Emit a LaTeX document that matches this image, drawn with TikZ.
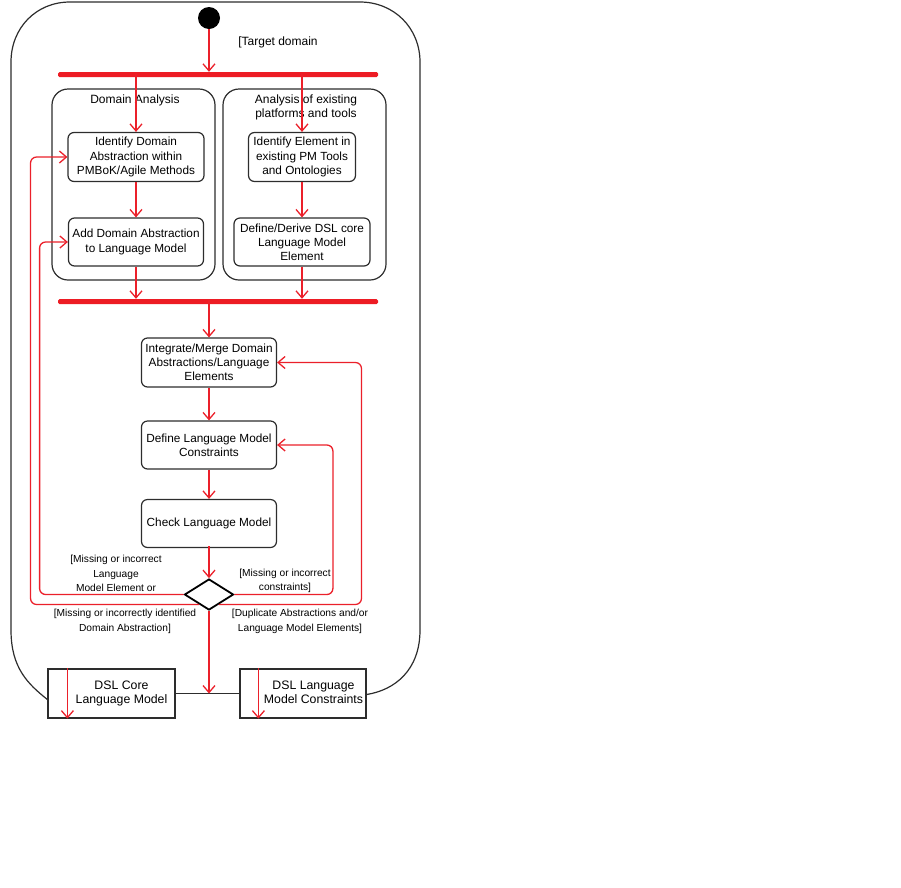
\documentclass[tikz,border=0pt]{standalone}
\usepackage{fontspec}
\setmainfont{Liberation Sans}
\usetikzlibrary{arrows.meta,shapes.geometric}
\definecolor{flowred}{RGB}{235,32,42}
\definecolor{barred}{RGB}{237,28,36}
\definecolor{linegray}{RGB}{45,45,45}
\tikzset{
  act/.style={draw=linegray,line width=1.2pt,rounded corners=6pt,align=center,
    inner sep=0pt,minimum height=49pt,font=\fontsize{11.8}{14.2}\selectfont},
  part/.style={draw=linegray,line width=1.2pt,rounded corners=16pt,inner sep=0pt},
  store/.style={draw=linegray,line width=1.2pt,inner sep=0pt,minimum width=127pt,
    minimum height=49pt,font=\fontsize{12.3}{14.5}\selectfont},
  bar/.style={fill=barred,rounded corners=1.5pt,inner sep=0pt,minimum width=320pt,minimum height=5pt},
  flow/.style={draw=flowred,line width=1.3pt,rounded corners=6pt,-{Straight Barb[length=7pt,width=12pt]}},
  guard/.style={align=center,font=\fontsize{10.2}{14.5}\selectfont},
  title/.style={align=center,font=\fontsize{12}{14}\selectfont}
}
\begin{document}
\begin{tikzpicture}[x=1pt,y=-1pt]
\useasboundingbox (0,0) rectangle (901,887);
% outer activity frame
\node[store](O1) at (111.5,693.5){\hspace{20pt}\begin{tabular}{@{}c@{}}DSL Core\\Language Model\end{tabular}};
\node[store,minimum width=126pt](O2) at (303,693.5){\hspace{21pt}\begin{tabular}{@{}c@{}}DSL Language\\Model Constraints\end{tabular}};
\draw[draw=linegray,line width=1.2pt] ([yshift=-6pt]O1.west) .. controls (28,684) and (11,668) .. (11,630)
  -- (11,62) .. controls (11,28) and (36,2) .. (70,2) -- (360,2) .. controls (394,2) and (420,28) .. (420,62)
  -- (420,630) .. controls (420,670) and (395,690) .. ([yshift=-1pt]O2.east);
\draw[draw=linegray,line width=1.2pt] (O1.east) -- (O2.west);
\coordinate (J) at (209,693.5);
% start and fork bars
\node[circle,fill=black,inner sep=0pt,minimum size=22pt](S) at (209,18){};
\node at (278,42) [title]{[Target domain};
\node[bar](F1) at (218,74.5){};
\node[bar](F2) at (218,301.5){};
% partitions
\node[part,minimum width=163pt,minimum height=191pt](PL) at (133.5,184.5){};
\node[part,minimum width=163pt,minimum height=191pt](PR) at (304.5,184.5){};
\node[title](TL) at (135,100){Domain Analysis};
\node[title](TR) at (306,107){Analysis of existing\\platforms and tools};
% actions
\node[act,minimum width=136pt](A1) at (136,157){Identify Domain\\Abstraction within\\PMBoK/Agile Methods};
\node[act,minimum width=135pt,minimum height=48pt](A2) at (136,242){Add Domain Abstraction\\to Language Model};
\node[act,minimum width=107pt](B1) at (302,157){Identify Element in\\existing PM Tools\\and Ontologies};
\node[act,minimum width=136pt,minimum height=48pt](B2) at (302,242){Define/Derive DSL core\\Language Model\\Element};
\node[act,minimum width=135pt](IM) at (209,362.5){Integrate/Merge Domain\\Abstractions/Language\\Elements};
\node[act,minimum width=135pt,minimum height=48pt](DC) at (209,445){Define Language Model\\Constraints};
\node[act,minimum width=135pt,minimum height=48pt](CK) at (209,523.5){Check Language Model};
\node[diamond,draw=black,line width=1.8pt,inner sep=0pt,minimum width=49pt,minimum height=31pt](D) at (209,594.5){};
% guards
\node[guard](G1) at (116,573.5){[Missing or incorrect\\Language\\Model Element or};
\node[guard](G2) at (285,581){[Missing or incorrect\\constraints]};
\node[guard](G3) at (125,621.5){[Missing or incorrectly identified\\Domain Abstraction]};
\node[guard](G4) at (300,621.5){[Duplicate Abstractions and/or\\Language Model Elements]};
% flows
\draw[flow] (S) -- (S |- F1.north);
\draw[flow] ([yshift=3pt]F1.south -| A1.north) -- (A1.north);
\draw[flow] ([yshift=3pt]F1.south -| B1.north) -- (B1.north);
\draw[flow] (A1) -- (A2);
\draw[flow] (B1) -- (B2);
\draw[flow] (A2.south) -- (A2.south |- F2.north);
\draw[flow] (B2.south) -- (B2.south |- F2.north);
\draw[flow] ([yshift=4pt]F2.south -| IM.north) -- (IM.north);
\draw[flow] (IM) -- (DC);
\draw[flow] (DC) -- (CK);
\draw[flow] ([yshift=2pt]CK.south) -- (D.north);
\draw[flow] (D.south) -- (J);
\draw[flow] (D.west) -- ++(-144,0) |- (A2.west);
\draw[flow] (D.-135) -- ++(-168.5,0) |- (A1.west);
\draw[flow] (D.east) -- ++(98.5,0) |- (DC.east);
\draw[flow] (D.-45) -- ++(142.5,0) |- (IM.east);
\draw[flow] ([xshift=20pt]O1.north west) -- ([xshift=20pt]O1.south west);
\draw[flow] ([xshift=19pt]O2.north west) -- ([xshift=19pt]O2.south west);
\end{tikzpicture}
\end{document}
